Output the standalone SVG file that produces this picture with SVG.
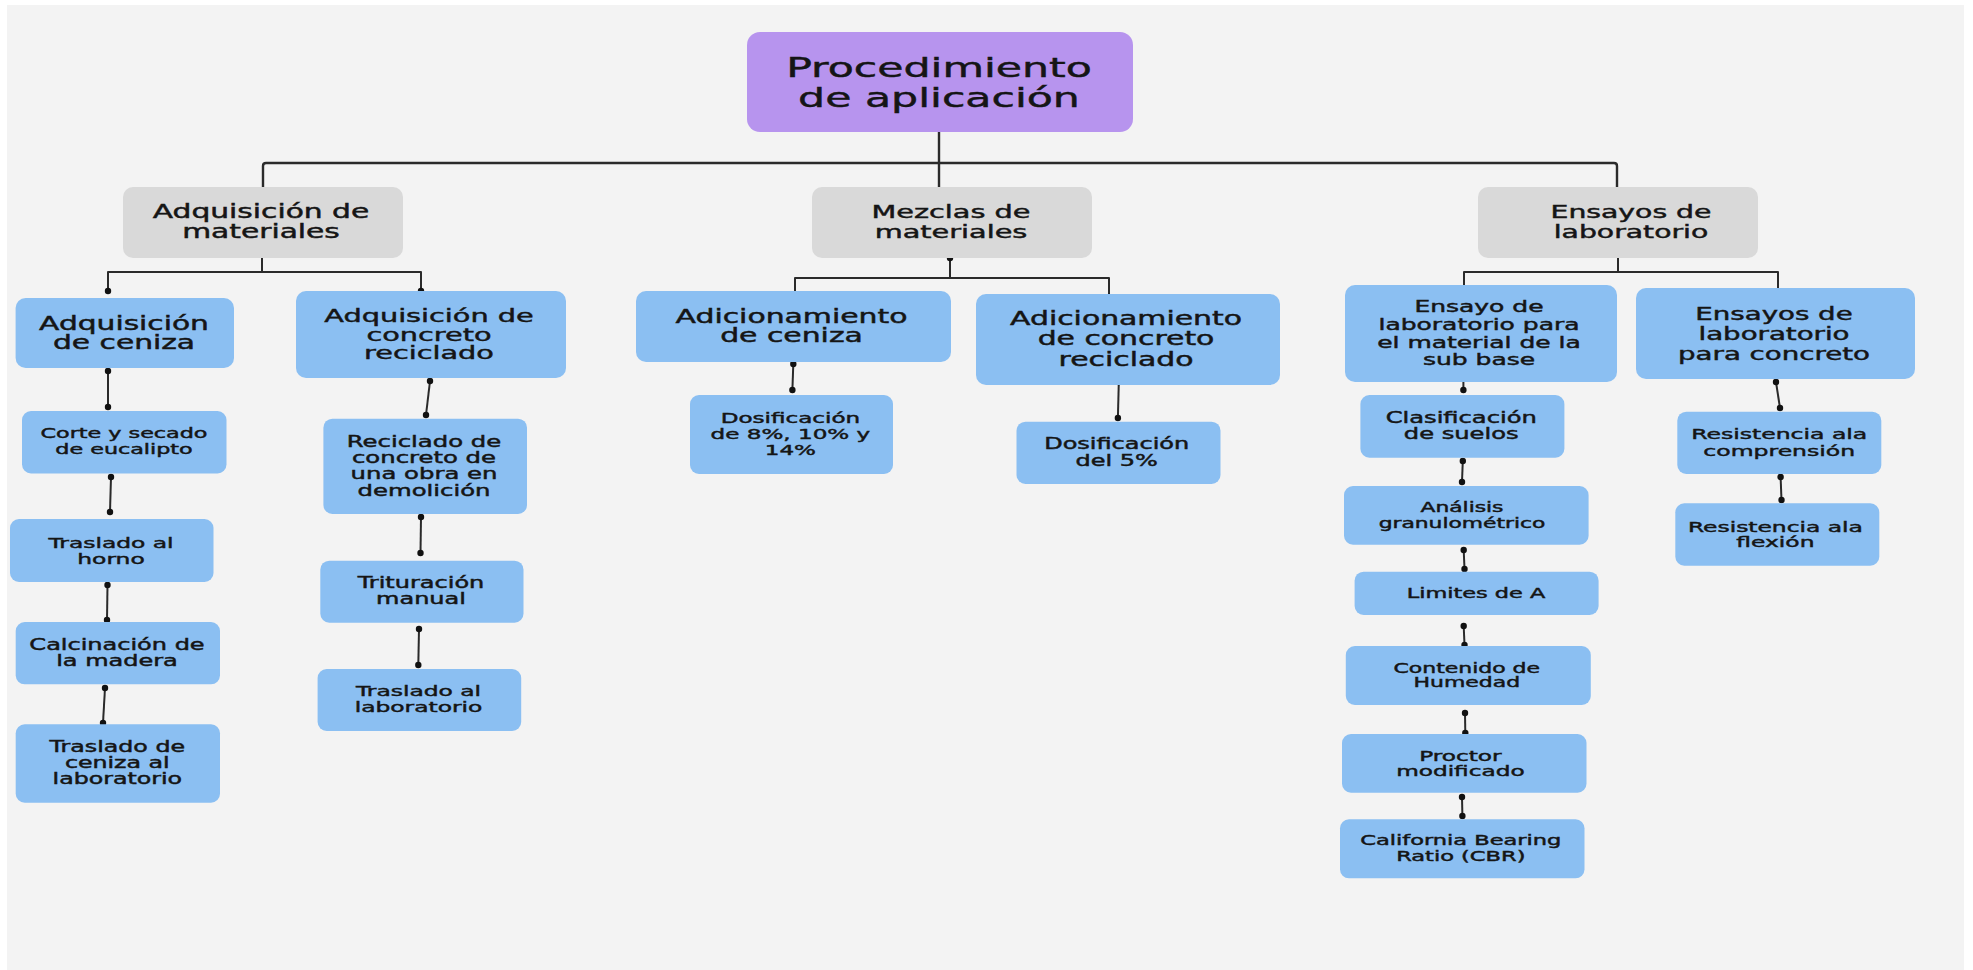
<svg xmlns="http://www.w3.org/2000/svg" width="1973" height="970" viewBox="0 0 1973 970">
<defs>
<style>
.bg{fill:#f3f3f3}
.root{fill:#b794ee}
.gray{fill:#d9d9d9}
.blue{fill:#8bbff2}
text{font-family:"DejaVu Sans","Liberation Sans",sans-serif;fill:#151515;stroke:#151515;stroke-width:0.45;text-anchor:middle}
.ln{fill:none;stroke:#2a2a2a;stroke-width:2;stroke-linejoin:round}
.bus{fill:none;stroke:#2a2a2a;stroke-width:2.4;stroke-linejoin:round}
.dt{marker-start:url(#dot);marker-end:url(#dot)}
</style>
<marker id="dot" markerUnits="userSpaceOnUse" markerWidth="8" markerHeight="8" refX="4" refY="4" viewBox="0 0 8 8">
<circle cx="4" cy="4" r="3.2" fill="#111"/>
</marker>
</defs>
<rect x="0" y="0" width="1973" height="970" fill="#ffffff"/>
<rect class="bg" x="7" y="5" width="1957" height="965"/>

<g id="connectors">
<path class="bus" d="M939,132 V187"/>
<path class="bus" d="M263,187 V166 Q263,163 266,163 H1614 Q1617,163 1617,166 V187"/>
<path class="ln" d="M262,251 V272" marker-start="url(#dot)"/>
<path class="ln" d="M108,291 V272 H421 V291" marker-start="url(#dot)" marker-end="url(#dot)"/>
<path class="ln" d="M950,258 V278" marker-start="url(#dot)"/>
<path class="ln" d="M795,297 V278 H1109 V297" marker-start="url(#dot)" marker-end="url(#dot)"/>
<path class="ln" d="M1618,251 V272" marker-start="url(#dot)"/>
<path class="ln" d="M1464,285 V272 H1778 V288"/>
<line class="ln dt" x1="108" y1="371" x2="108" y2="407"/>
<line class="ln dt" x1="111" y1="477" x2="110" y2="512"/>
<line class="ln dt" x1="107.5" y1="585" x2="107" y2="620"/>
<line class="ln dt" x1="105" y1="688" x2="103" y2="723"/>
<line class="ln dt" x1="430" y1="381" x2="426" y2="415"/>
<line class="ln dt" x1="421" y1="517" x2="420.5" y2="553"/>
<line class="ln dt" x1="419" y1="629" x2="418.3" y2="665"/>
<line class="ln dt" x1="793.3" y1="364" x2="792.4" y2="390"/>
<line class="ln dt" x1="1118.8" y1="382" x2="1117.9" y2="418"/>
<line class="ln dt" x1="1463.4" y1="371" x2="1463.4" y2="390"/>
<line class="ln dt" x1="1462.8" y1="461" x2="1462" y2="482"/>
<line class="ln dt" x1="1463.7" y1="550" x2="1464.5" y2="569"/>
<line class="ln dt" x1="1463.7" y1="626" x2="1464.5" y2="645"/>
<line class="ln dt" x1="1465" y1="713" x2="1465.3" y2="733"/>
<line class="ln dt" x1="1462" y1="797" x2="1462.4" y2="816"/>
<line class="ln dt" x1="1776" y1="382" x2="1780" y2="408"/>
<line class="ln dt" x1="1780.6" y1="477" x2="1781.5" y2="500"/>
</g>

<g id="root">
<rect class="root" x="747" y="32" width="386" height="100" rx="13"/>
<text transform="translate(939 0) scale(1.58 1)" font-size="27"><tspan x="0" y="77">Procedimiento</tspan><tspan x="0" y="107">de aplicación</tspan></text>
</g>

<g id="adq-materiales">
<rect class="gray" x="123" y="187" width="280" height="71" rx="10"/>
<text transform="translate(261 0) scale(1.58 1)" font-size="18.8"><tspan x="0" y="218.3">Adquisición de</tspan><tspan x="0" y="238">materiales</tspan></text>
</g>
<g id="mezclas">
<rect class="gray" x="812" y="187" width="280" height="71" rx="10"/>
<text transform="translate(951 0) scale(1.58 1)" font-size="18.2"><tspan x="0" y="218.3">Mezclas de</tspan><tspan x="0" y="238">materiales</tspan></text>
</g>
<g id="ensayos">
<rect class="gray" x="1478" y="187" width="280" height="71" rx="10"/>
<text transform="translate(1631 0) scale(1.58 1)" font-size="17.9"><tspan x="0" y="218.3">Ensayos de</tspan><tspan x="0" y="238">laboratorio</tspan></text>
</g>

<g id="adq-ceniza">
<rect class="blue" x="15.6" y="298" width="218.4" height="70" rx="10"/>
<text transform="translate(124 0) scale(1.58 1)" font-size="18.8"><tspan x="0" y="330">Adquisición</tspan><tspan x="0" y="349.5">de ceniza</tspan></text>
</g>
<g id="adq-concreto">
<rect class="blue" x="296" y="291" width="270" height="87" rx="10"/>
<text transform="translate(429 0) scale(1.58 1)" font-size="18.2"><tspan x="0" y="321.7">Adquisición de</tspan><tspan x="0" y="340.7">concreto</tspan><tspan x="0" y="359.3">reciclado</tspan></text>
</g>
<g id="adic-ceniza">
<rect class="blue" x="636" y="291" width="315" height="71" rx="10"/>
<text transform="translate(791.5 0) scale(1.58 1)" font-size="18.9"><tspan x="0" y="322.7">Adicionamiento</tspan><tspan x="0" y="342.3">de ceniza</tspan></text>
</g>
<g id="adic-concreto">
<rect class="blue" x="976" y="294" width="304" height="91" rx="10"/>
<text transform="translate(1126 0) scale(1.58 1)" font-size="18.9"><tspan x="0" y="325">Adicionamiento</tspan><tspan x="0" y="345">de concreto</tspan><tspan x="0" y="365.7">reciclado</tspan></text>
</g>
<g id="ensayo-subbase">
<rect class="blue" x="1345" y="285" width="272" height="97" rx="10"/>
<text transform="translate(1479 0) scale(1.58 1)" font-size="15.8"><tspan x="0" y="312.3">Ensayo de</tspan><tspan x="0" y="330">laboratorio para</tspan><tspan x="0" y="347.7">el material de la</tspan><tspan x="0" y="365">sub base</tspan></text>
</g>
<g id="ensayos-concreto">
<rect class="blue" x="1636" y="288" width="279" height="91" rx="10"/>
<text transform="translate(1774 0) scale(1.58 1)" font-size="17.5"><tspan x="0" y="320">Ensayos de</tspan><tspan x="0" y="340">laboratorio</tspan><tspan x="0" y="360">para concreto</tspan></text>
</g>

<g id="corte">
<rect class="blue" x="22" y="411" width="204.5" height="62.5" rx="9"/>
<text transform="translate(124 0) scale(1.58 1)" font-size="14.1"><tspan x="0" y="438">Corte y secado</tspan><tspan x="0" y="454">de eucalipto</tspan></text>
</g>
<g id="traslado-horno">
<rect class="blue" x="10" y="519" width="203.5" height="63" rx="9"/>
<text transform="translate(111 0) scale(1.58 1)" font-size="14.8"><tspan x="0" y="547.7">Traslado al</tspan><tspan x="0" y="564">horno</tspan></text>
</g>
<g id="calcinacion">
<rect class="blue" x="15.7" y="622" width="204.3" height="62.3" rx="9"/>
<text transform="translate(117 0) scale(1.58 1)" font-size="15.2"><tspan x="0" y="650">Calcinación de</tspan><tspan x="0" y="666">la madera</tspan></text>
</g>
<g id="traslado-ceniza">
<rect class="blue" x="15.7" y="724.3" width="204.3" height="78.4" rx="9"/>
<text transform="translate(117.3 0) scale(1.58 1)" font-size="15"><tspan x="0" y="751.7">Traslado de</tspan><tspan x="0" y="767.7">ceniza al</tspan><tspan x="0" y="784">laboratorio</tspan></text>
</g>
<g id="reciclado">
<rect class="blue" x="323.4" y="418.7" width="203.6" height="95.3" rx="9"/>
<text transform="translate(424 0) scale(1.58 1)" font-size="15.4"><tspan x="0" y="446.7">Reciclado de</tspan><tspan x="0" y="462.7">concreto de</tspan><tspan x="0" y="479.3">una obra en</tspan><tspan x="0" y="495.7">demolición</tspan></text>
</g>
<g id="trituracion">
<rect class="blue" x="320.3" y="560.7" width="203.2" height="62" rx="9"/>
<text transform="translate(421 0) scale(1.58 1)" font-size="15.2"><tspan x="0" y="587.7">Trituración</tspan><tspan x="0" y="604">manual</tspan></text>
</g>
<g id="traslado-lab">
<rect class="blue" x="317.6" y="669" width="203.6" height="62" rx="9"/>
<text transform="translate(418.5 0) scale(1.58 1)" font-size="14.8"><tspan x="0" y="696">Traslado al</tspan><tspan x="0" y="711.7">laboratorio</tspan></text>
</g>
<g id="dosif-ceniza">
<rect class="blue" x="690" y="395" width="203" height="79" rx="9"/>
<text transform="translate(790.4 0) scale(1.58 1)" font-size="14.6"><tspan x="0" y="422.7">Dosificación</tspan><tspan x="0" y="439.3">de 8%, 10% y</tspan><tspan x="0" y="455">14%</tspan></text>
</g>
<g id="dosif-concreto">
<rect class="blue" x="1016.5" y="421.7" width="204" height="62.3" rx="9"/>
<text transform="translate(1116.7 0) scale(1.58 1)" font-size="15.2"><tspan x="0" y="449.3">Dosificación</tspan><tspan x="0" y="465.7">del 5%</tspan></text>
</g>
<g id="clasificacion">
<rect class="blue" x="1360.4" y="395" width="204" height="62.7" rx="9"/>
<text transform="translate(1461.2 0) scale(1.58 1)" font-size="15.3"><tspan x="0" y="423.3">Clasificación</tspan><tspan x="0" y="439.3">de suelos</tspan></text>
</g>
<g id="granulometrico">
<rect class="blue" x="1344" y="486" width="244.6" height="58.7" rx="9"/>
<text transform="translate(1462 0) scale(1.58 1)" font-size="13.8"><tspan x="0" y="511.7">Análisis</tspan><tspan x="0" y="527.7">granulométrico</tspan></text>
</g>
<g id="limites">
<rect class="blue" x="1354.6" y="571.7" width="244" height="43.3" rx="9"/>
<text transform="translate(1476 0) scale(1.58 1)" font-size="14.2"><tspan x="0" y="598.3">Limites de A</tspan></text>
</g>
<g id="humedad">
<rect class="blue" x="1345.8" y="646" width="245" height="59" rx="9"/>
<text transform="translate(1466.8 0) scale(1.58 1)" font-size="13.9"><tspan x="0" y="672.7">Contenido de</tspan><tspan x="0" y="687.3">Humedad</tspan></text>
</g>
<g id="proctor">
<rect class="blue" x="1342" y="734" width="244.5" height="58.7" rx="9"/>
<text transform="translate(1460.4 0) scale(1.58 1)" font-size="14.7"><tspan x="0" y="760.7">Proctor</tspan><tspan x="0" y="776">modificado</tspan></text>
</g>
<g id="cbr">
<rect class="blue" x="1340" y="819.3" width="244.5" height="59" rx="9"/>
<text transform="translate(1460.8 0) scale(1.58 1)" font-size="14.25"><tspan x="0" y="845">California Bearing</tspan><tspan x="0" y="861">Ratio (CBR)</tspan></text>
</g>
<g id="compresion">
<rect class="blue" x="1677.3" y="411.7" width="204" height="62.3" rx="9"/>
<text transform="translate(1779.2 0) scale(1.58 1)" font-size="14.9"><tspan x="0" y="439.3">Resistencia ala</tspan><tspan x="0" y="456">comprensión</tspan></text>
</g>
<g id="flexion">
<rect class="blue" x="1675.3" y="503.3" width="204" height="62.4" rx="9"/>
<text transform="translate(1775.4 0) scale(1.58 1)" font-size="14.8"><tspan x="0" y="531.7">Resistencia ala</tspan><tspan x="0" y="547.3">flexión</tspan></text>
</g>
</svg>
